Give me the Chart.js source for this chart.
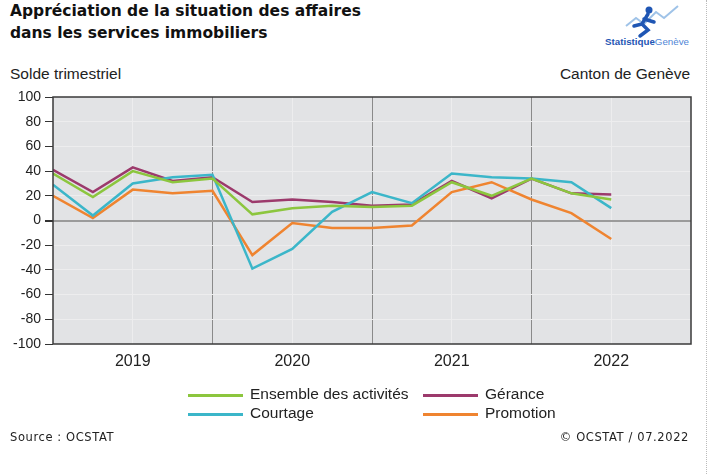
<!DOCTYPE html>
<html>
<head>
<meta charset="utf-8">
<script src="https://cdn.jsdelivr.net/npm/chart.js@4"></script>
<style>
  body { margin: 0; width: 710px; height: 474px; background: #fff; position: relative; overflow: hidden; font-family: "Liberation Sans", Arial, sans-serif; color: #222; }
  .abs { position: absolute; white-space: nowrap; }
  #title { left: 10px; top: 0px; font-family: "DejaVu Sans", sans-serif; font-weight: bold; font-size: 15.5px; line-height: 22px; color: #111; }
  #chartBox { position: absolute; left: 0; top: 0; width: 710px; height: 474px; }
  .leg { font-size: 15.5px; }
  .leg i { position: absolute; width: 55px; height: 3px; top: 8px; }
  .leg span { position: absolute; left: 62px; top: -1px; }
  .foot { font-family: "DejaVu Sans", sans-serif; font-size: 11.5px; letter-spacing: 0.6px; top: 430px; color: #222; }
  #edge { position: absolute; left: 706px; top: 0; height: 474px; border-left: 1px dotted #bbb; }
</style>
</head>
<body>
<div id="title" class="abs">Appréciation de la situation des affaires<br>dans les services immobiliers</div>
<div class="abs" style="left:10px;top:65px;font-size:15.5px;">Solde trimestriel</div>
<div class="abs" style="right:20px;top:65px;font-size:15.5px;">Canton de Genève</div>
<svg class="abs" style="left:604px;top:4px;" width="90" height="44">
  <polyline points="22,22 32,14 40,20 52,8 60,14 74,2" fill="none" stroke="#9fc3e8" stroke-width="2"/>
  <circle cx="45" cy="6" r="3.5" fill="#1f56b4"/>
  <path d="M44,10 L38,20 L30,22 M38,20 L44,26 L36,32 M40,15 L50,18" fill="none" stroke="#1f56b4" stroke-width="3.5" stroke-linecap="round"/>
  <text x="1" y="41" textLength="84" lengthAdjust="spacingAndGlyphs" font-family="Liberation Sans, sans-serif" font-size="9.5" font-weight="bold" fill="#1f56b4">Statistique<tspan font-weight="normal" fill="#4f86d6">Genève</tspan></text>
</svg>
<div id="chartBox"><canvas id="c" width="710" height="474"></canvas></div>
<div class="abs leg" style="left:188px;top:386px;"><i style="background:#8cc63e"></i><span>Ensemble des activités</span></div>
<div class="abs leg" style="left:423px;top:386px;"><i style="background:#9c3a6c"></i><span>Gérance</span></div>
<div class="abs leg" style="left:188px;top:405px;"><i style="background:#3bb6c9"></i><span>Courtage</span></div>
<div class="abs leg" style="left:423px;top:405px;"><i style="background:#ef8430"></i><span>Promotion</span></div>
<div class="abs foot" style="left:10px;">Source : OCSTAT</div>
<div class="abs foot" style="right:21px;">© OCSTAT / 07.2022</div>
<div id="edge"></div>
<script>
// Trimestres (2019 T1 -> 2022 T3)
const quarters = ['2019T1','2019T2','2019T3','2019T4','2020T1','2020T2','2020T3','2020T4',
                  '2021T1','2021T2','2021T3','2021T4','2022T1','2022T2','2022T3'];
const years = ['2019', '2020', '2021', '2022'];
const yTicks = [-100, -80, -60, -40, -20, 0, 20, 40, 60, 80, 100];

// Soldes trimestriels
const ensemble  = [38, 19, 40, 31, 34, 5, 10, 12, 11, 12, 31, 20, 34, 22, 17];
const gerance   = [41, 23, 43, 32, 35, 15, 17, 15, 12, 13, 32, 18, 34, 22, 21];
const courtage  = [29, 4, 30, 35, 37, -39, -23, 7, 23, 14, 38, 35, 34, 31, 10];
const promotion = [20, 2, 25, 22, 24, -28, -2, -6, -6, -4, 23, 31, 17, 6, -15];

function toPoints(values) {
    return values.map((v, i) => ({ x: i, y: v }));
}

function serie(label, values, color) {
    return {
        label: label,
        data: toPoints(values),
        borderColor: color,
        backgroundColor: color,
        borderWidth: 2.5,
        pointRadius: 0,
        tension: 0
    };
}

// Fond gris et cadre de la zone du graphique
const plotFrame = {
    id: 'plotFrame',
    beforeDraw(chart) {
        const a = chart.chartArea, ctx = chart.ctx;
        ctx.save();
        ctx.fillStyle = '#e2e3e5';
        ctx.fillRect(a.left, a.top, a.right - a.left, a.bottom - a.top);
        ctx.restore();
    },
    afterDraw(chart) {
        const a = chart.chartArea, ctx = chart.ctx;
        ctx.save();
        ctx.strokeStyle = '#3a3a3a';
        ctx.lineWidth = 1.5;
        ctx.strokeRect(a.left, a.top, a.right - a.left, a.bottom - a.top);
        ctx.restore();
    }
};

const ctx = document.getElementById('c').getContext('2d');
new Chart(ctx, {
    type: 'line',
    data: {
        datasets: [
            serie('Ensemble des activités', ensemble, '#8cc63e'),
            serie('Courtage', courtage, '#3bb6c9'),
            serie('Promotion', promotion, '#ef8430'),
            serie('Gérance', gerance, '#9c3a6c')
        ]
    },
    options: {
        responsive: false,
        animation: false,
        layout: { padding: { top: 97, right: 19, left: 0, bottom: 0 } },
        plugins: { legend: { display: false }, tooltip: { enabled: false } },
        scales: {
            x: {
                type: 'linear',
                min: 0,
                max: quarters.length + 1,
                afterFit: s => { s.height = 130; },
                afterBuildTicks: s => {
                    const t = [];
                    for (let v = 0; v <= quarters.length + 1; v += 2) t.push({ value: v });
                    s.ticks = t;
                },
                border: { display: false },
                grid: {
                    drawTicks: false,
                    lineWidth: 1,
                    color: c => {
                        const v = c.tick ? c.tick.value : 0;
                        if (v === 0 || v === quarters.length + 1) return 'rgba(0,0,0,0)';
                        return v % 4 === 0 ? '#8a8a8a' : '#ededee';
                    }
                },
                ticks: {
                    autoSkip: false,
                    maxRotation: 0,
                    padding: 8,
                    color: '#222',
                    font: { family: 'Liberation Sans', size: 16 },
                    callback: v => (v % 4 === 2 ? years[(v - 2) / 4] : '')
                }
            },
            y: {
                min: -100,
                max: 100,
                afterFit: s => { s.width = 53; },
                afterBuildTicks: s => { s.ticks = yTicks.map(v => ({ value: v })); },
                border: { display: false },
                grid: {
                    tickLength: 8,
                    tickColor: '#333',
                    lineWidth: c => (c.tick && c.tick.value === 0 ? 2 : 1),
                    color: c => {
                        const v = c.tick ? c.tick.value : 1;
                        if (v === 100 || v === -100) return 'rgba(0,0,0,0)';
                        return v === 0 ? '#9b9b9b' : '#ededee';
                    }
                },
                ticks: {
                    padding: 4,
                    color: '#222',
                    font: { family: 'Liberation Sans', size: 14 }
                }
            }
        }
    },
    plugins: [plotFrame]
});
</script>
</body>
</html>
